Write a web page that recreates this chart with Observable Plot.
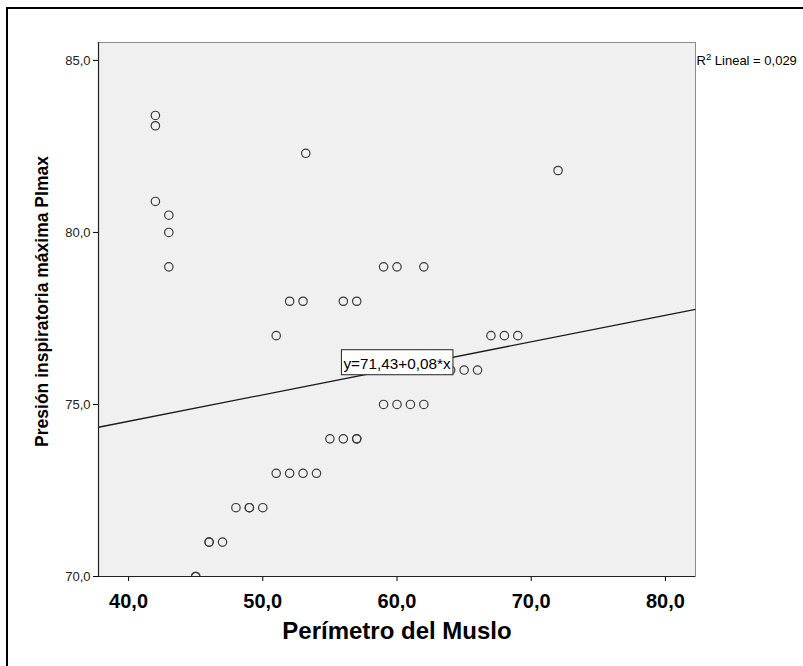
<!DOCTYPE html>
<html>
<head>
<meta charset="utf-8">
<script src="https://cdn.jsdelivr.net/npm/d3@7"></script>
<script src="https://cdn.jsdelivr.net/npm/@observablehq/plot@0.6"></script>
<style>
  html, body { margin: 0; padding: 0; background: #fff; overflow: hidden; }
  #chart { position: relative; width: 803px; height: 666px; overflow: hidden; }
  #border { position: absolute; left: 6px; top: 7px; width: 810px; height: 680px;
            border: 2px solid #000; box-sizing: border-box; pointer-events: none; }
  #chart svg { position: absolute; left: 0; top: 0; }
</style>
</head>
<body>
<div id="chart"><div id="border"></div></div>
<script>
// Thigh circumference (cm) and maximal inspiratory pressure, one entry per subject
const thigh = [42, 42, 42, 43, 43, 43, 53.2, 72,
               59, 60, 62,
               52, 53, 56, 57,
               51, 67, 68, 69,
               64, 65, 66,
               59, 60, 61, 62,
               55, 56, 57, 57,
               51, 52, 53, 54,
               48, 49, 49, 50,
               46, 46, 47,
               45, 45];
const pimax = [83.4, 83.1, 80.9, 80.5, 80.0, 79.0, 82.3, 81.8,
               79, 79, 79,
               78, 78, 78, 78,
               77, 77, 77, 77,
               76, 76, 76,
               75, 75, 75, 75,
               74, 74, 74, 74,
               73, 73, 73, 73,
               72, 72, 72, 72,
               71, 71, 71,
               70, 70];

// Axis ranges and tick values
const xDomain = [37.76, 82.24];
const yDomain = [70, 85.52];
const xTicks = [40, 50, 60, 70, 80];
const yTicks = [70, 75, 80, 85];

// Linear fit
const fitIntercept = 71.43;
const fitSlope = 0.077;
const fitR2 = 0.029;

const comma = (v, digits) => v.toFixed(digits).replace(".", ",");
const points = thigh.map((x, i) => ({x, y: pimax[i]}));
const fitLine = xDomain.map(x => ({x, y: fitIntercept + fitSlope * x}));
const eqText = `y=${comma(fitIntercept, 2)}+${comma(fitSlope, 2)}*x`;
const midX = (xDomain[0] + xDomain[1]) / 2;
const eqPos = [{x: midX, y: fitIntercept + fitSlope * midX, label: eqText}];
const r2Label = " Lineal = " + comma(fitR2, 3);

const font = "'Liberation Sans', Arial, sans-serif";

const plot = Plot.plot({
  width: 803,
  height: 666,
  marginLeft: 98,
  marginRight: 108,
  marginTop: 42,
  marginBottom: 90,
  style: {fontFamily: font, background: "transparent", overflow: "visible"},
  x: {domain: xDomain, ticks: xTicks, tickFormat: d => comma(d, 1), tickSize: 5, tickPadding: 12, label: null},
  y: {domain: yDomain, ticks: yTicks, tickFormat: d => comma(d, 1), tickSize: 5, tickPadding: 3, label: null},
  marks: [
    Plot.frame({fill: "#f0f0f0", stroke: "#8c8c8c"}),
    Plot.line(fitLine, {x: "x", y: "y", stroke: "#1a1a1a", strokeWidth: 1.3}),
    Plot.dot(points, {x: "x", y: "y", r: 4.2, stroke: "#3a3a3a", strokeWidth: 1.2, fill: "none"}),
    Plot.ruleX([xDomain[0]], {stroke: "#222", strokeWidth: 1.2}),
    Plot.ruleY([yDomain[0]], {stroke: "#222", strokeWidth: 1.2}),
    Plot.text(eqPos, {x: "x", y: "y", text: "label", dy: -4.5, fontSize: 15.3, fill: "#000"}),
    Plot.text(["R"], {frameAnchor: "top-right", textAnchor: "start", dx: 1, dy: 13, fontSize: 13, fill: "#000"}),
    Plot.text(["Perímetro del Muslo"], {frameAnchor: "bottom", dy: 62, fontSize: 24, fontWeight: "bold", fill: "#000"}),
    Plot.text(["Presión inspiratoria máxima PImax"], {frameAnchor: "left", textAnchor: "middle", rotate: -90, dx: -56, dy: -8, fontSize: 17.5, fontWeight: "bold", fill: "#000"})
  ]
});

document.getElementById("chart").append(plot);

const svg = d3.select(plot);

// Axis label styling
svg.selectAll('[aria-label^="x-axis"]').attr("font-size", 20).attr("font-weight", "bold");
svg.selectAll('[aria-label^="x-axis"] text').attr("font-size", 20).attr("font-weight", "bold").attr("fill", "#000");
svg.selectAll('[aria-label^="y-axis"]').attr("font-size", 13);
svg.selectAll('[aria-label^="y-axis"] text').attr("font-size", 13).attr("fill", "#222");

// Clip the scatter and the fit line to the plotting frame
const clipId = "frame-clip";
svg.insert("defs", ":first-child").append("clipPath").attr("id", clipId)
  .append("rect").attr("x", 98).attr("y", 42).attr("width", 803 - 98 - 108).attr("height", 666 - 42 - 90);
svg.selectAll('[aria-label="dot"], [aria-label="line"]').attr("clip-path", `url(#${clipId})`);

// R² legend: superscript 2 and the coefficient
const rNode = [...plot.querySelectorAll("text")].find(e => e.textContent === "R");
if (rNode) {
  const r = d3.select(rNode);
  r.append("tspan").attr("font-size", 9.5).attr("dy", -5).text("2");
  r.append("tspan").attr("dy", 5).text(r2Label);
}

// White box behind the fit equation
const eqNode = [...plot.querySelectorAll("text")].find(e => e.textContent === eqText);
if (eqNode) {
  const b = eqNode.getBBox();
  const rect = document.createElementNS("http://www.w3.org/2000/svg", "rect");
  rect.setAttribute("x", b.x - 2);
  rect.setAttribute("y", b.y - 5);
  rect.setAttribute("width", b.width + 4);
  rect.setAttribute("height", b.height + 8);
  rect.setAttribute("fill", "#fff");
  rect.setAttribute("stroke", "#222");
  rect.setAttribute("stroke-width", 1);
  if (eqNode.getAttribute("transform")) rect.setAttribute("transform", eqNode.getAttribute("transform"));
  eqNode.parentNode.insertBefore(rect, eqNode);
}
</script>
</body>
</html>
